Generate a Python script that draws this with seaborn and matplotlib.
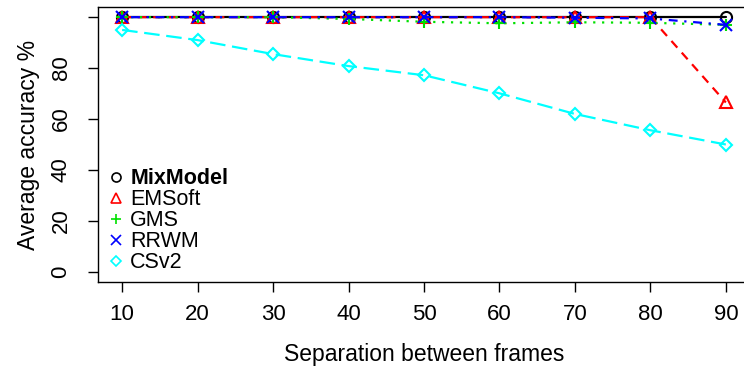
import numpy as np
import pandas as pd
import matplotlib
matplotlib.use("Agg")
import matplotlib.pyplot as plt
import seaborn as sns
from matplotlib.lines import Line2D

# ==============================
# Data
# ==============================
separation = [10, 20, 30, 40, 50, 60, 70, 80, 90]
mixmodel = [100, 100, 100, 100, 100, 100, 100, 100, 100]
emsoft = [100, 100, 100, 100, 100, 100, 100, 100, 66.5]
gms = [100, 100, 100, 99.3, 98.2, 97.6, 98, 97.8, 97]
rrwm = [100, 100, 100, 100, 100, 100, 99.8, 99.5, 97]
csv2 = [95, 91, 85.5, 80.8, 77.2, 70.1, 62, 55.6, 50]

method_names = ["MixModel", "EMSoft", "GMS", "RRWM", "CSv2"]
y_ticks = [0, 20, 40, 60, 80, 100]
y_tick_labels = ["0", "20", "40", "60", "80", ""]

# ==============================
# Styling
# ==============================
sns.set_style("ticks")
plt.rcParams["font.family"] = ["Liberation Sans", "DejaVu Sans"]
plt.rcParams["text.color"] = "black"
plt.rcParams["axes.labelcolor"] = "black"
plt.rcParams["xtick.color"] = "black"
plt.rcParams["ytick.color"] = "black"

styles = {
    "MixModel": dict(color="black", marker="o", dashes=None),
    "EMSoft": dict(color="#FF0000", marker="^", dashes=(4, 3)),
    "GMS": dict(color="#00E000", marker="+", dashes=(1, 3)),
    "RRWM": dict(color="#0000FF", marker="x", dashes=(1, 3, 4, 3)),
    "CSv2": dict(color="#00FFFF", marker="D", dashes=(7, 3)),
}
series = dict(zip(method_names, [mixmodel, emsoft, gms, rrwm, csv2]))

fig = plt.figure(figsize=(7.44, 3.69), dpi=100)
ax = fig.add_axes([98 / 744, 1 - 282 / 369, (750 - 98) / 744, (282 - 7) / 369])

for name in method_names:
    st = styles[name]
    df = pd.DataFrame({"sep": separation, "acc": series[name]})
    ms = 6.5 if st["marker"] == "D" else 8
    sns.lineplot(data=df, x="sep", y="acc", ax=ax,
                 color=st["color"], marker=st["marker"], markersize=ms,
                 markerfacecolor="none", markeredgecolor=st["color"],
                 markeredgewidth=1.5, linewidth=1.6)
    line = ax.get_lines()[-1]
    if st["dashes"] is not None:
        line.set_dashes(st["dashes"])

ax.set_xlim(6.8, 93.2)
ax.set_ylim(-4, 104)
ax.set_xticks(separation)
ax.set_yticks(y_ticks)
ax.set_yticklabels(y_tick_labels, rotation=90, va="center")
ax.tick_params(axis="both", labelsize=16, length=7, width=1)
ax.tick_params(axis="x", pad=9)
ax.tick_params(axis="y", pad=12)

for sp in ax.spines.values():
    sp.set_visible(True)
    sp.set_linewidth(1)
    sp.set_color("black")

ax.set_xlabel("Separation between frames", fontsize=16.5, va="center")
ax.set_ylabel("Average accuracy %", fontsize=16.5, va="center")
ax.xaxis.set_label_coords(0.5, -0.265)
ax.yaxis.set_label_coords(-0.107, 0.5)

# legend: markers only, no frame
handles = []
for name in method_names:
    st = styles[name]
    handles.append(Line2D([], [], linestyle="none", marker=st["marker"],
                          markersize=6.5 if st["marker"] != "D" else 5.5,
                          markerfacecolor="none", markeredgecolor=st["color"],
                          markeredgewidth=1.2))
leg = ax.legend(handles, method_names, loc="lower left", bbox_to_anchor=(0.0, 0.0),
                frameon=False, fontsize=15.5, handlelength=0.85, handletextpad=0.25,
                labelspacing=0.0, borderaxespad=0.2, borderpad=0.2)
leg.get_texts()[0].set_fontweight("bold")

fig.savefig("out.png", dpi=100)
